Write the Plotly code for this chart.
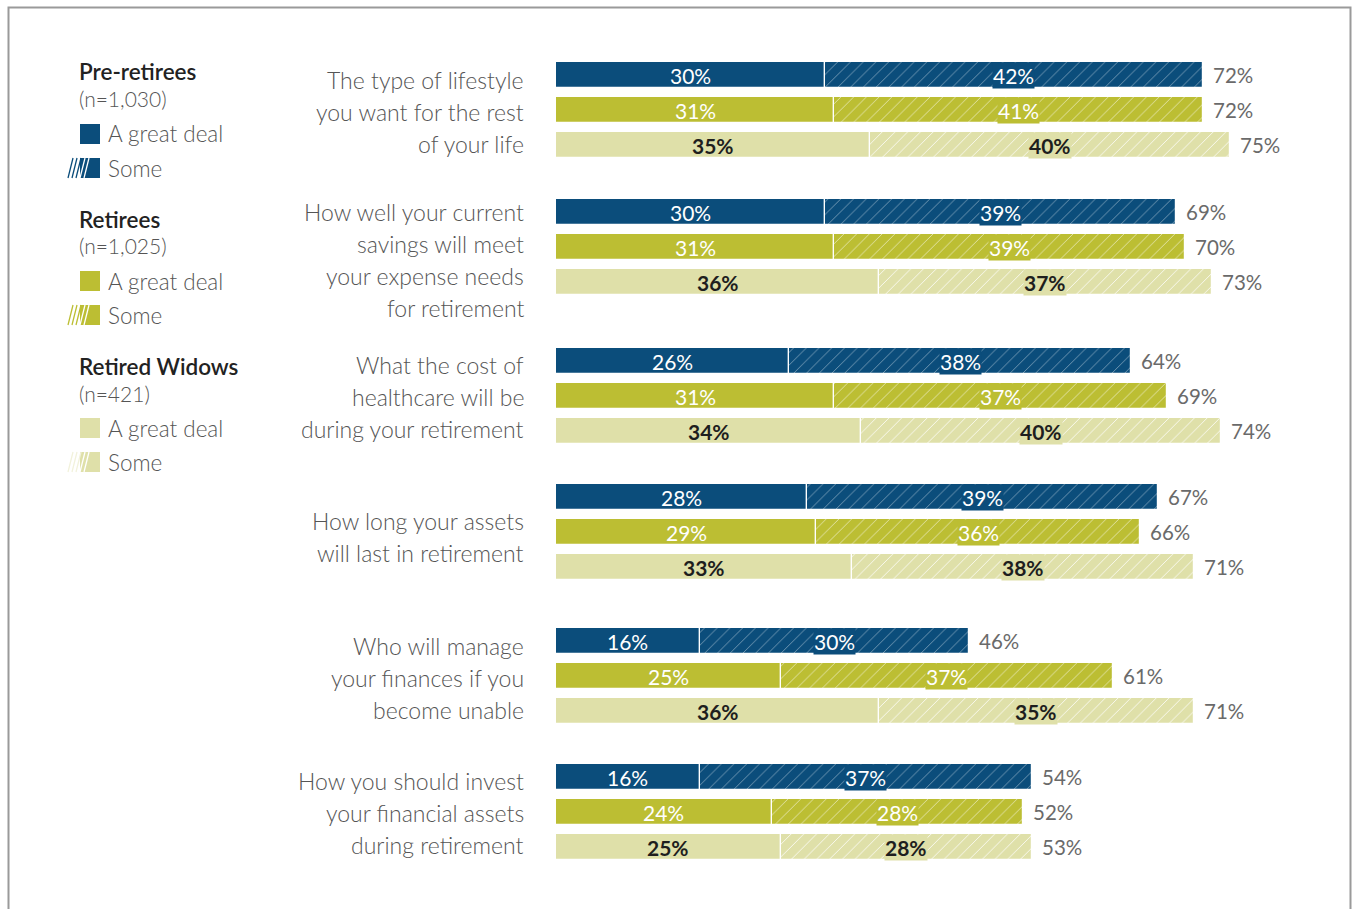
import plotly.graph_objects as go

# ---- data -------------------------------------------------------------
questions = [
    ["The type of lifestyle", "you want for the rest", "of your life"],
    ["How well your current", "savings will meet", "your expense needs", "for retirement"],
    ["What the cost of", "healthcare will be", "during your retirement"],
    ["How long your assets", "will last in retirement"],
    ["Who will manage", "your finances if you", "become unable"],
    ["How you should invest", "your financial assets", "during retirement"],
]
groups = ["Pre-retirees", "Retirees", "Retired Widows"]
group_n = ["(n=1,030)", "(n=1,025)", "(n=421)"]

great_deal = {
    "Pre-retirees":   [30, 30, 26, 28, 16, 16],
    "Retirees":       [31, 31, 31, 29, 25, 24],
    "Retired Widows": [35, 36, 34, 33, 36, 25],
}
some = {
    "Pre-retirees":   [42, 39, 38, 39, 30, 37],
    "Retirees":       [41, 39, 37, 36, 37, 28],
    "Retired Widows": [40, 37, 40, 38, 35, 28],
}
total = {
    "Pre-retirees":   [72, 69, 64, 67, 46, 54],
    "Retirees":       [72, 70, 69, 66, 61, 52],
    "Retired Widows": [75, 73, 74, 71, 71, 53],
}

# ---- styling / layout -------------------------------------------------
W, H = 1353, 909
ROW = 35.0                      # pixels per bar row (one y unit)
colors = {"Pre-retirees": "#0b4d7b", "Retirees": "#bcbe33", "Retired Widows": "#dfe0a9"}
label_col = {"Pre-retirees": "white", "Retirees": "white", "Retired Widows": "#1e1e1e"}
hatch_op = {"Pre-retirees": 0.45, "Retirees": 0.6, "Retired Widows": 0.85}
group_center_px = [110, 247, 396, 532, 676, 812]   # vertical centre of each question block
label_shift_px = [2, 13, 1, 5, 2, 1]               # nudge of the question text block
LINE_PX = 32
X0_PX, PX_PER_PCT = 556, 8.98
FONT = "Lato"

def px_x(p):
    return p / W

def px_y(p):
    return 1 - p / H

fig = go.Figure()
annotations = []
shapes = []

for gi, g in enumerate(groups):
    ys = [(group_center_px[qi] + (gi - 1) * ROW) / ROW for qi in range(len(questions))]
    gd = great_deal[g]
    sm = some[g]
    fig.add_trace(go.Bar(
        y=ys, x=gd, orientation="h", width=26 / ROW,
        marker=dict(color=colors[g], line=dict(color="white", width=1.2)),
        hoverinfo="skip", showlegend=False,
    ))
    fig.add_trace(go.Bar(
        y=ys, x=sm, base=gd, orientation="h", width=26 / ROW,
        marker=dict(
            color=colors[g], line=dict(color="white", width=1.2),
            pattern=dict(shape="/", fgcolor="white", bgcolor=colors[g],
                         fgopacity=hatch_op[g], size=9, solidity=0.1),
        ),
        hoverinfo="skip", showlegend=False,
    ))
    bold = g == "Retired Widows"
    for qi, y in enumerate(ys):
        a, s, t = gd[qi], sm[qi], total[g][qi]
        txt_a = f"<b>{a}%</b>" if bold else f"{a}%"
        txt_s = f"<b>{s}%</b>" if bold else f"{s}%"
        annotations.append(dict(x=a / 2, y=y, xref="x", yref="y", text=txt_a,
                                showarrow=False, font=dict(family=FONT, size=21, color=label_col[g])))
        annotations.append(dict(x=a + s / 2, y=y, xref="x", yref="y", text=txt_s,
                                showarrow=False, bgcolor=colors[g], borderpad=0,
                                font=dict(family=FONT, size=21, color=label_col[g])))
        annotations.append(dict(x=a + s, y=y, xref="x", yref="y", text=f"{t}%",
                                xanchor="left", xshift=8, showarrow=False,
                                font=dict(family=FONT, size=20.5, color="#6a6a6a")))

# question text, right aligned next to the bars
for qi, lines in enumerate(questions):
    c = group_center_px[qi] + label_shift_px[qi]
    n = len(lines)
    for li, line in enumerate(lines):
        yp = c + (li - (n - 1) / 2) * LINE_PX
        annotations.append(dict(x=px_x(526), y=px_y(yp), xref="paper", yref="paper",
                                text=line, xanchor="right", yanchor="middle", showarrow=False,
                                font=dict(family=FONT, size=23, color="#555555", weight=300)))

# custom legend on the left
for gi, g in enumerate(groups):
    top = 72 + gi * 147
    annotations.append(dict(x=px_x(77), y=px_y(top), xref="paper", yref="paper",
                            text=g, xanchor="left", yanchor="middle", showarrow=False,
                            font=dict(family=FONT, size=22.5, color="#222222", weight=600)))
    annotations.append(dict(x=px_x(77), y=px_y(top + 27), xref="paper", yref="paper",
                            text=group_n[gi], xanchor="left", yanchor="middle", showarrow=False,
                            font=dict(family=FONT, size=21, color="#555555", weight=300)))
    for k, name in enumerate(["A great deal", "Some"]):
        cy = top + 62 + k * 34
        shapes.append(dict(type="rect", xref="paper", yref="paper",
                           x0=px_x(80), x1=px_x(100), y0=px_y(cy - 10), y1=px_y(cy + 10),
                           fillcolor=colors[g], line=dict(width=0)))
        if name == "Some":
            left_col = colors[g] if g != "Retired Widows" else "#f2f2dc"
            for lx in [68, 72, 76]:
                shapes.append(dict(type="line", xref="paper", yref="paper",
                                   x0=px_x(lx), y0=px_y(cy + 10), x1=px_x(lx + 5), y1=px_y(cy - 10),
                                   line=dict(color=left_col, width=1.3)))
            for lx in [80, 84]:
                shapes.append(dict(type="line", xref="paper", yref="paper",
                                   x0=px_x(lx), y0=px_y(cy + 10), x1=px_x(lx + 5), y1=px_y(cy - 10),
                                   line=dict(color="white", width=1.3)))
        annotations.append(dict(x=px_x(106), y=px_y(cy), xref="paper", yref="paper",
                                text=name, xanchor="left", yanchor="middle", showarrow=False,
                                font=dict(family=FONT, size=22.5, color="#555555", weight=300)))

# outer frame
shapes.append(dict(type="rect", xref="paper", yref="paper",
                   x0=px_x(8.5), x1=px_x(1350.5), y0=px_y(7.5), y1=px_y(H + 10),
                   line=dict(color="#9a9a9a", width=2), fillcolor="rgba(0,0,0,0)"))

fig.update_layout(
    width=W, height=H,
    margin=dict(l=0, r=0, t=0, b=0),
    paper_bgcolor="white", plot_bgcolor="white",
    barmode="overlay", bargap=0,
    xaxis=dict(domain=[X0_PX / W, 1.0], range=[0, (W - X0_PX) / PX_PER_PCT],
               visible=False, fixedrange=True),
    yaxis=dict(domain=[0, 1], range=[H / ROW, 0], visible=False, fixedrange=True),
    annotations=annotations, shapes=shapes,
    font=dict(family=FONT),
)

fig.write_html("out.html")
